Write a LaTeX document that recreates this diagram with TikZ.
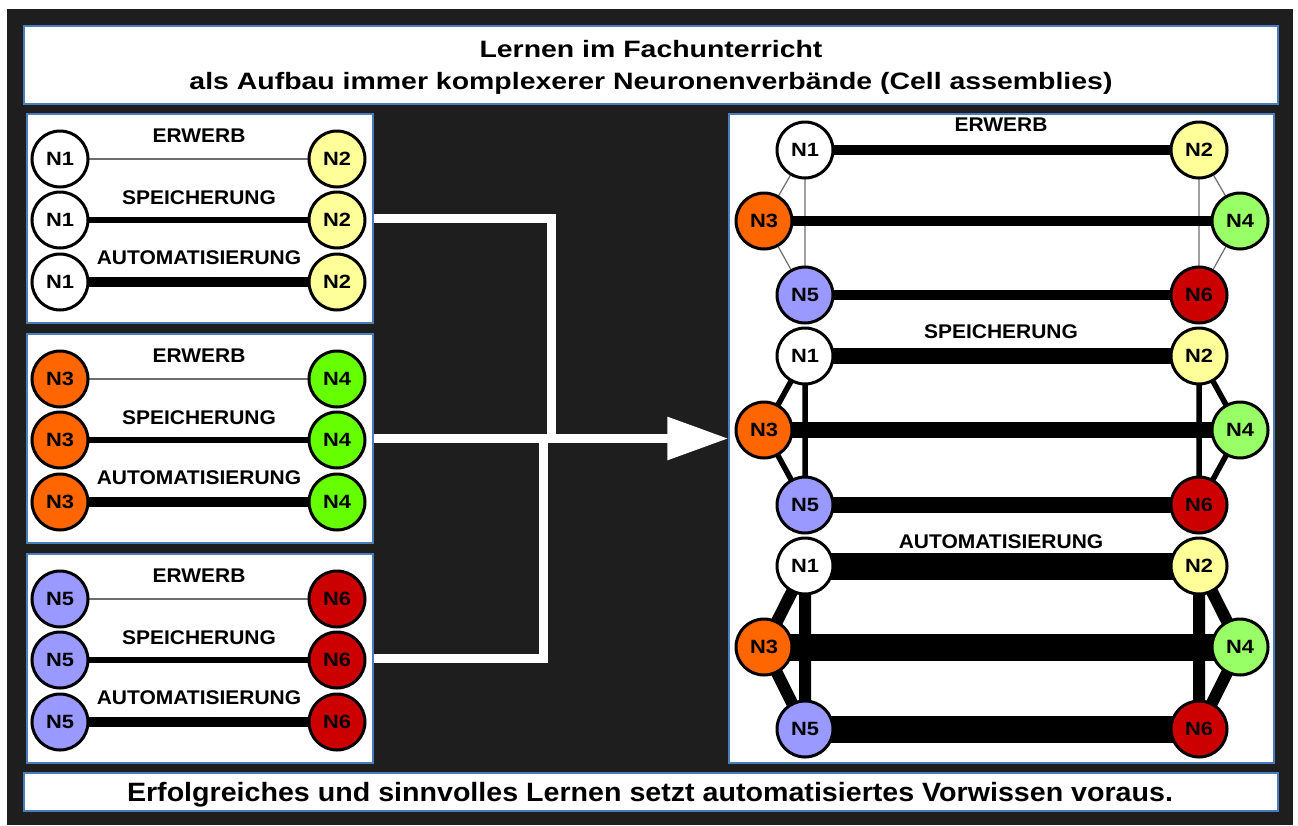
\documentclass[tikz,border=0pt]{standalone}
\usepackage{fontspec}
\setmainfont{Liberation Sans}
\newfontfamily\titlefont{Liberation Sans}[FakeStretch=1.2]
\newfontfamily\footfont{Liberation Sans}[FakeStretch=1.08]
\newfontfamily\labfont{Liberation Sans}[FakeStretch=1.06]
\newfontfamily\nfont{Liberation Sans}[FakeStretch=1.14]
\usetikzlibrary{arrows.meta}

\definecolor{bgdark}{HTML}{1E1E1E}
\definecolor{frame}{HTML}{4A7EBB}
\definecolor{thin}{HTML}{6E6E6E}
\definecolor{cwhite}{HTML}{FFFFFF}
\definecolor{cyellow}{HTML}{FFFF99}
\definecolor{corange}{HTML}{FF6600}
\definecolor{cgreen}{HTML}{66FF00}
\definecolor{cgreenlight}{HTML}{99FF66}
\definecolor{cviolet}{HTML}{9999FF}
\definecolor{cred}{HTML}{CC0000}

\pgfdeclarelayer{back}
\pgfdeclarelayer{links}
\pgfsetlayers{back,links,main}

\tikzset{
  box/.style={draw=frame, line width=1.2pt, fill=white, inner sep=0pt},
  neuron/.style={circle, draw=black, line width=3pt, minimum size=56pt, inner sep=0pt,
    font=\nfont\bfseries\fontsize{19.2}{22}\selectfont},
  lab/.style={inner sep=0pt, font=\labfont\bfseries\fontsize{19.8}{22}\selectfont},
  headtext/.style={inner sep=0pt, anchor=base, font=\titlefont\bfseries\fontsize{23.7}{28}\selectfont},
  foottext/.style={inner sep=0pt, anchor=base, font=\footfont\bfseries\fontsize{26.5}{30}\selectfont},
  weaklink/.style={draw=thin, line width=1.5pt},
  flow/.style={draw=white, line width=9pt},
}

\begin{document}
\begin{tikzpicture}[x=1pt,y=-1pt]
\useasboundingbox (0,0) rectangle (1298,825);

% frames and panels
\begin{pgfonlayer}{back}
  \fill[white] (0,0) rectangle (1298,825);
  \fill[bgdark] (7,9) rectangle (1293,825);
  \node[box, minimum width=1254pt, minimum height=78pt] (head) at (651,65) {};
  \node[box, minimum width=1254pt, minimum height=38pt] (foot) at (651,792) {};
  \node[box, minimum width=346pt, minimum height=209pt] (p1) at (200,218.5) {};
  \node[box, minimum width=346pt, minimum height=209pt] (p2) at (200,438.5) {};
  \node[box, minimum width=346pt, minimum height=209pt] (p3) at (200,658.5) {};
  \node[box, minimum width=545pt, minimum height=649pt] (rp) at (1001.5,438.5) {};
\end{pgfonlayer}

% headline and closing sentence
\node[headtext] (t1) at (651,57) {Lernen im Fachunterricht};
\node[headtext] (t2) at (651,89) {als Aufbau immer komplexerer Neuronenverbände (Cell assemblies)};
\node[foottext] (t3) at (650,801) {Erfolgreiches und sinnvolles Lernen setzt automatisiertes Vorwissen voraus.};

% three single pairs on the left, three strengths each
\foreach \k/\T/\a/\b/\ca/\cb in {1/114/N1/N2/cwhite/cyellow,
                                 2/334/N3/N4/corange/cgreen,
                                 3/554/N5/N6/cviolet/cred}{
  \node[neuron, fill=\ca] (l\k a1) at (60,\T+45)  {\a};
  \node[neuron, fill=\cb] (l\k b1) at (337,\T+45) {\b};
  \node[neuron, fill=\ca] (l\k a2) at (60,\T+106)  {\a};
  \node[neuron, fill=\cb] (l\k b2) at (337,\T+106) {\b};
  \node[neuron, fill=\ca] (l\k a3) at (60,\T+168)  {\a};
  \node[neuron, fill=\cb] (l\k b3) at (337,\T+168) {\b};
  \node[lab] (l\k s1) at (199,\T+22)  {ERWERB};
  \node[lab] (l\k s2) at (199,\T+84)  {SPEICHERUNG};
  \node[lab] (l\k s3) at (199,\T+144) {AUTOMATISIERUNG};
  \begin{pgfonlayer}{links}
    \draw[weaklink] (l\k a1.center) -- (l\k b1.center);
    \draw[line width=6pt] (l\k a2.center) -- (l\k b2.center);
    \draw[line width=9.5pt] (l\k a3.center) -- (l\k b3.center);
  \end{pgfonlayer}
}

% the growing assembly on the right
\foreach \g/\ya/\yb/\yc/\yl/\txt/\hw/\sw/\sc in {
    1/150/221/295/125/ERWERB/10/1.2/thin,
    2/356/430/505/332/SPEICHERUNG/16.5/5.5/black,
    3/566/647/729/542/AUTOMATISIERUNG/27/12/black}{
  \node[neuron, fill=cwhite]      (r\g n1) at (805,\ya)  {N1};
  \node[neuron, fill=cyellow]     (r\g n2) at (1199,\ya) {N2};
  \node[neuron, fill=corange]     (r\g n3) at (764,\yb)  {N3};
  \node[neuron, fill=cgreenlight] (r\g n4) at (1240,\yb) {N4};
  \node[neuron, fill=cviolet]     (r\g n5) at (805,\yc)  {N5};
  \node[neuron, fill=cred]        (r\g n6) at (1199,\yc) {N6};
  \node[lab] (r\g s) at (1001,\yl) {\txt};
  \begin{pgfonlayer}{links}
    \draw[draw=\sc, line width=\sw pt]
      (r\g n1.center) -- (r\g n3.center) -- (r\g n5.center) -- cycle
      (r\g n2.center) -- (r\g n4.center) -- (r\g n6.center) -- cycle;
    \draw[line width=\hw pt] (r\g n1.center) -- (r\g n2.center);
    \draw[line width=\hw pt] (r\g n3.center) -- (r\g n4.center);
    \draw[line width=\hw pt] (r\g n5.center) -- (r\g n6.center);
  \end{pgfonlayer}
}

% white connectors merging into the big arrow
\coordinate (j1) at (551,439);
\coordinate (j2) at (543,439);
\draw[flow] (p1.east) -| (j1);
\draw[flow] (p3.east) -| (j2);
\draw[flow, -{Triangle[length=61pt,width=41pt]}] (p2.east) -- (rp.west);
\end{tikzpicture}
\end{document}
